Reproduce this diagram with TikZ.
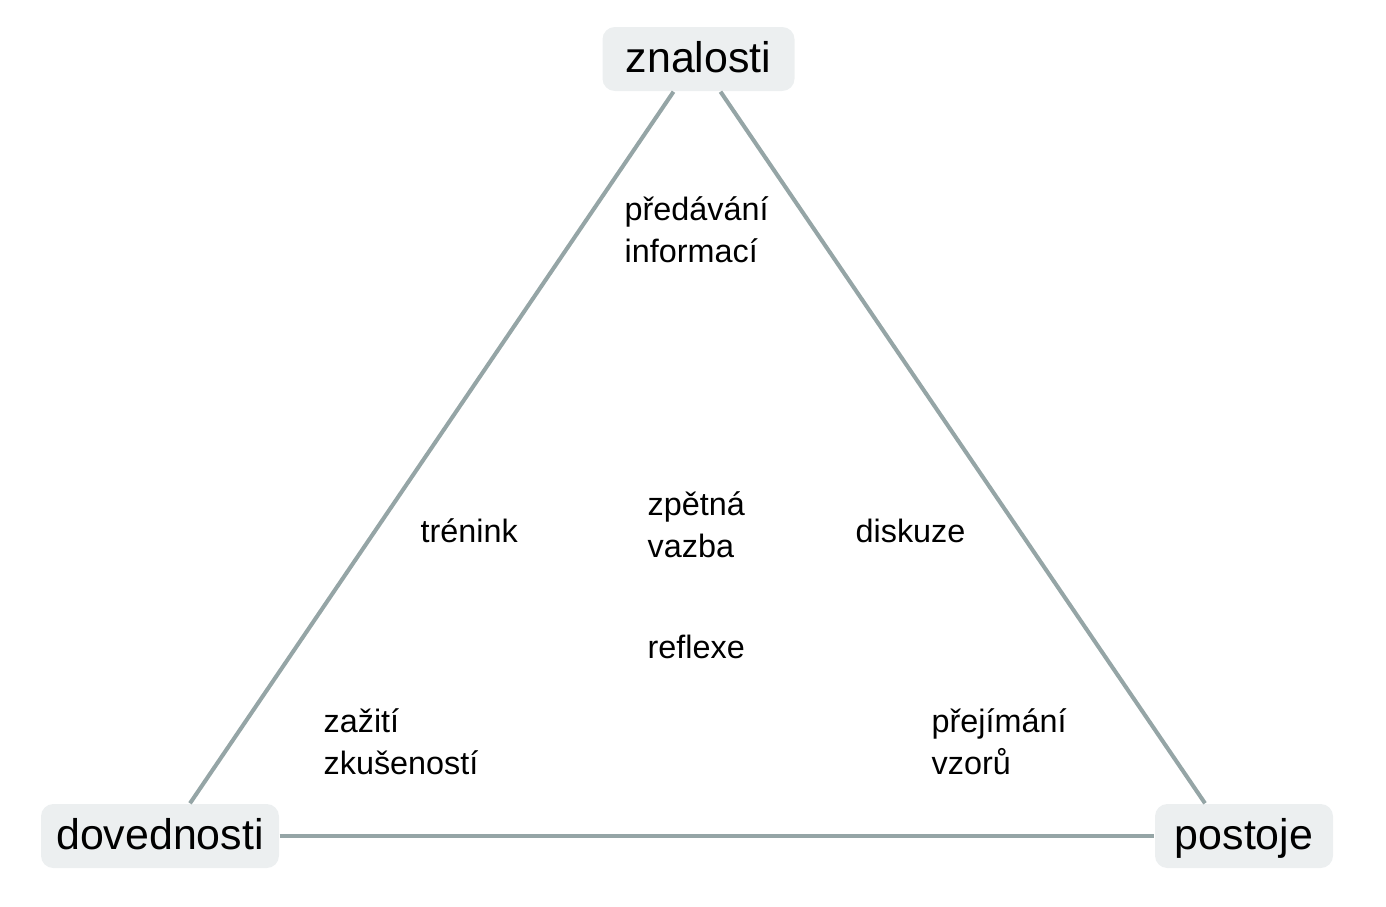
\documentclass[tikz,border=0pt]{standalone}
\usepackage{fontspec}
\setmainfont{Liberation Sans}
\usetikzlibrary{calc}
\definecolor{hranacol}{HTML}{95A5A6}
\definecolor{boxcol}{HTML}{ECEFF0}
\begin{document}
\begin{tikzpicture}[x=0.01cm,y=-0.01cm,
    vrchol/.style={fill=boxcol, rounded corners=3.5pt, minimum height=64*0.01cm, inner sep=0pt, text height=8.8pt, text depth=1.4pt, font=\fontsize{12.2}{14}\selectfont},
    popis/.style={anchor=base west, inner sep=0pt, align=left, font=\fontsize{9.2}{11.8}\selectfont},
    hrana/.style={draw=hranacol, line width=1.15pt}]
    \useasboundingbox (0,0) rectangle (1386,906);
    \node[vrchol, minimum width=192*0.01cm] (znalosti) at (698.5,59) {znalosti};
    \node[vrchol, minimum width=238*0.01cm] (dovednosti) at (160,836) {dovednosti};
    \node[vrchol, minimum width=178*0.01cm] (postoje) at (1244,836) {postoje};

    \draw[hrana] ($(znalosti.south)+(-25,0)$) -- ($(dovednosti.north)+(30,0)$);
    \draw[hrana] ($(znalosti.south)+(22,0)$) -- ($(postoje.north)+(-39,0)$);
    \draw[hrana] (dovednosti.east) -- (postoje.west);

    \node[popis] (predavani) at (624,262) {předávání\\informací};
    \node[popis] (trenink) at (420,542) {trénink};
    \node[popis] (zpetna) at (647,557) {zpětná\\vazba};
    \node[popis] (diskuze) at (855,542) {diskuze};
    \node[popis] (reflexe) at (647,658) {reflexe};
    \node[popis] (zaziti) at (323,774) {zažití\\zkušeností};
    \node[popis] (prejimani) at (931,774) {přejímání\\vzorů};
\end{tikzpicture}
\end{document}
